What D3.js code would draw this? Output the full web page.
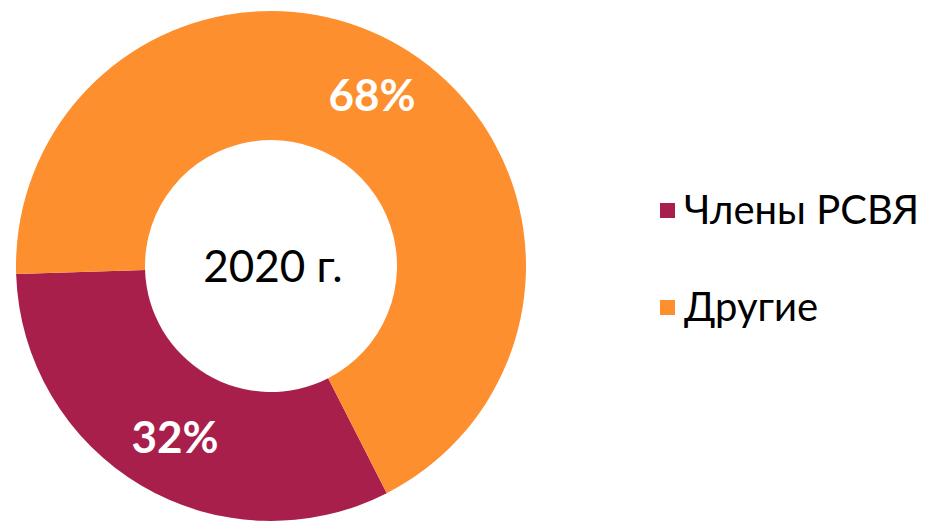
<!DOCTYPE html>
<html>
<head>
<meta charset="utf-8">
<script src="https://cdn.jsdelivr.net/npm/d3@7"></script>
<style>
  body { margin: 0; background: #fff; }
  svg { display: block; font-family: Lato, "Open Sans", sans-serif; }
</style>
</head>
<body>
<svg id="chart" width="932" height="522"></svg>
<script>
// data
const categories = ["Члены РСВЯ", "Другие"];
const shares = [32, 68];
const colors = ["#A91F4B", "#FE8F2E"];
const centerLabel = "2020 г.";

const width = 932, height = 522;
const cx = 271, cy = 266, outerR = 255, innerR = 126;

const svg = d3.select("#chart");

const color = d3.scaleOrdinal().domain(categories).range(colors);

// first slice starts a bit past "5 o'clock", like the source
const startDeg = 153;
const pie = d3.pie().sort(null).value(d => d.value)
  .startAngle(startDeg * Math.PI / 180)
  .endAngle(startDeg * Math.PI / 180 + 2 * Math.PI);

const data = categories.map((c, i) => ({ name: c, value: shares[i] }));
const arcs = pie(data);

const arc = d3.arc().innerRadius(innerR).outerRadius(outerR);
const labelR = (innerR + outerR) / 2 + 8;
const labelArc = d3.arc().innerRadius(labelR).outerRadius(labelR);

const g = svg.append("g").attr("transform", `translate(${cx},${cy})`);

g.selectAll("path")
  .data(arcs)
  .join("path")
  .attr("d", arc)
  .attr("fill", d => color(d.data.name));

// percent labels
g.selectAll("text.pct")
  .data(arcs)
  .join("text")
  .attr("class", "pct")
  .attr("transform", d => {
    const [x, y] = labelArc.centroid(d);
    return `translate(${x + (d.index === 0 ? 5 : 0)},${y})`;
  })
  .attr("text-anchor", "middle")
  .attr("dy", "0.36em")
  .attr("fill", "#fff")
  .attr("font-weight", "bold")
  .attr("font-size", "44px")
  .text(d => d.data.value + "%");

g.append("text")
  .attr("x", 2)
  .attr("text-anchor", "middle")
  .attr("dy", "0.36em")
  .attr("font-size", "44px")
  .attr("fill", "#000")
  .text(centerLabel);

// legend
const legend = svg.append("g").attr("transform", "translate(660,0)");
const rowY = d3.scalePoint().domain(categories).range([210, 307]);

const item = legend.selectAll("g")
  .data(categories)
  .join("g")
  .attr("transform", d => `translate(0,${rowY(d)})`);

item.append("rect")
  .attr("x", 0).attr("y", -7)
  .attr("width", 15).attr("height", 15)
  .attr("fill", d => color(d));

item.append("text")
  .attr("x", 24)
  .attr("dy", "0.36em")
  .attr("font-size", "40px")
  .attr("fill", "#000")
  .text(d => d);
</script>
</body>
</html>
